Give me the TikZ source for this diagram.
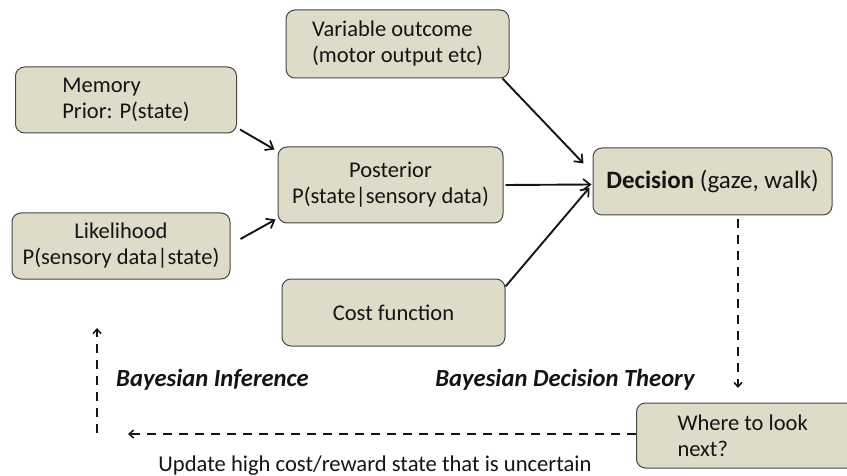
\documentclass[tikz,border=0pt]{standalone}
\usepackage{fontspec}
\setmainfont{Carlito}
\usetikzlibrary{arrows.meta}
\definecolor{boxfill}{RGB}{222,219,200}
\definecolor{boxline}{RGB}{70,70,70}
\definecolor{ink}{RGB}{20,20,20}
\begin{document}
\begin{tikzpicture}[x=1pt,y=-1pt,
  box/.style={draw=boxline,line width=1pt,fill=boxfill,rounded corners=9pt,inner sep=2pt,text=ink,font=\fontsize{22.5}{26}\selectfont},
  arr/.style={draw=ink,line width=1.9pt,-{Straight Barb[length=7pt,width=11pt,line width=1.7pt]}},
  dsh/.style={draw=ink,line width=2pt,dash pattern=on 9pt off 7pt,-{Straight Barb[length=4.5pt,width=8pt,line width=1.5pt]}},
  lbl/.style={text=ink,font=\fontsize{22.6}{26}\selectfont},
  ttl/.style={text=ink,font=\fontsize{24.6}{28}\selectfont\bfseries\itshape}]
\useasboundingbox (0,0) rectangle (847,476);
\node[box,minimum width=221pt,minimum height=66pt,align=left] (mem) at (126,100) {Memory\\Prior: P(state)};
\node[box,minimum width=218pt,minimum height=66pt,align=center] (lik) at (121,246) {Likelihood\\P(sensory data\textbar state)};
\node[box,minimum width=223pt,minimum height=68pt,align=left] (var) at (397.5,44) {Variable outcome\\(motor output etc)};
\node[box,minimum width=225pt,minimum height=76pt,align=center] (post) at (390.5,185) {Posterior\\P(state\textbar sensory data)};
\node[box,minimum width=239pt,minimum height=67pt,align=center,font=\fontsize{25}{28}\selectfont] (dec) at (712.5,181.5) {\textbf{Decision} (gaze, walk)};
\node[box,minimum width=223pt,minimum height=67pt,align=center] (cost) at (393.5,312.5) {Cost function};
\node[box,anchor=west,minimum height=65pt,text width=160pt,inner xsep=41pt,align=flush left] (where) at (636,435.5) {Where to look\\next?};

\draw[arr] ([shift={(3,-4)}]mem.south east) -- ([shift={(-3,3)}]post.north west);
\draw[arr] ([shift={(10,-7)}]lik.east) -- ([shift={(-2,-4)}]post.south west);
\draw[arr] ([shift={(-7,0)}]var.south east) -- ([shift={(-9,-18)}]dec.west);
\draw[arr] ([shift={(2,0)}]post.east) -- ([shift={(-1,3)}]dec.west);
\draw[arr] ([shift={(0,8)}]cost.north east) -- ([shift={(-3,6)}]dec.west);

\coordinate (d1) at (738,219);
\coordinate (d2) at (738,388);
\draw[dsh] (d1) -- (d2);
\coordinate (h0) at (636,434);
\coordinate (h1) at (128,434);
\draw[dsh] (h0) -- (h1);
\coordinate (v1) at (97,433);
\coordinate (v2) at (97,328);
\draw[dsh] (v1) -- (v2);

\node[ttl] (bi) at (212.5,380) {Bayesian Inference};
\node[ttl] (bdt) at (565,380) {Bayesian Decision Theory};
\node[lbl] (upd) at (375,466) {Update high cost/reward state that is uncertain};
\end{tikzpicture}
\end{document}
